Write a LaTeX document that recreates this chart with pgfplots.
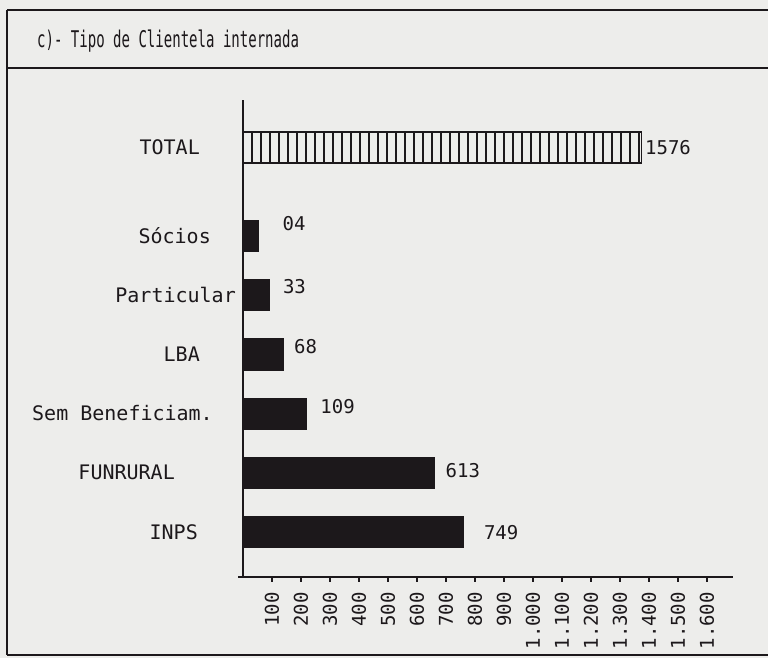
\documentclass[border=0pt]{standalone}
\usepackage{pgfplots}
\pgfplotsset{compat=1.18}
\usepackage{pgfplotstable}
\usepackage{fontspec}
\setmainfont{DejaVu Sans Mono}
\usetikzlibrary{patterns.meta}
\definecolor{paper}{RGB}{237,237,235}
\definecolor{ink}{RGB}{28,24,27}

\pgfplotstableread{
y x lab dx dy
0 760 749 20 0
1 659 613 11 2
2 220 109 13 7
3 140 68 10 8
4 91 33 13 9
5 52 04 24 13
}\dark
\pgfplotstableread{
y x lab dx dy
6.5 1374 1576 3 0
}\total

\newcommand{\gap}[1]{\rule{#1}{0pt}}

\begin{document}
\begin{tikzpicture}[x=1bp,y=1bp]
\fill[paper] (0,0) rectangle (768,658);
\useasboundingbox (0,0) rectangle (768,658);
\draw[ink, line width=2bp] (7,648) -- (768,648);
\draw[ink, line width=2bp] (7,590) -- (768,590);
\draw[ink, line width=2bp] (7,3) -- (768,3);
\draw[ink, line width=2bp] (7,648) -- (7,3);
\node[anchor=base west, inner sep=0pt, text=ink] at (37,610) {\scalebox{0.61}[1]{\fontsize{23bp}{28bp}\selectfont c)- Tipo de Clientela internada}};
\begin{axis}[
  at={(243bp,81bp)}, anchor=south west,
  scale only axis, width=490bp, height=477bp,
  xmin=0, xmax=1690, ymin=-0.76, ymax=7.30,
  axis lines*=left,
  axis line style={ink, line width=1.5bp},
  xtick={100,200,...,1600},
  xticklabels={100,200,300,400,500,600,700,800,900,1.000,1.100,1.200,1.300,1.400,1.500,1.600},
  xticklabel style={rotate=90, anchor=east, inner sep=0pt, text=ink, font=\fontsize{19bp}{21bp}\selectfont},
  xticklabel shift=10bp,
  xtick style={ink, line width=1.2bp},
  tick align=outside,
  major tick length=5bp,
  ytick={0,1,2,3,4,5,6.5},
  yticklabels={INPS\gap{40bp}, FUNRURAL\gap{63bp}, Sem Beneficiam.\gap{25bp}, LBA\gap{38bp}, Particular\gap{2bp}, Sócios\gap{27bp}, TOTAL\gap{38bp}},
  yticklabel style={anchor=base east, inner sep=0pt, text=ink, font=\fontsize{20bp}{24bp}\selectfont, yshift=-7bp},
  ytick style={draw=none},
  xbar, bar width=31bp, bar shift=0pt,
  clip=false,
  point meta=explicit symbolic,
  nodes near coords,
]
\addplot[draw=ink, line width=1.3bp, fill=ink,
  visualization depends on={\thisrow{dx} \as \dx},
  visualization depends on={\thisrow{dy} \as \dy},
  every node near coord/.append style={anchor=base west, inner sep=0pt, text=ink, font=\fontsize{19bp}{22bp}\selectfont, xshift=\dx*1bp, yshift=(\dy-7)*1bp}]
  table[x=x, y=y, meta=lab] {\dark};
\addplot[draw=ink, line width=1.5bp, pattern={Lines[angle=90, distance=9bp, line width=1.3bp]}, pattern color=ink,
  visualization depends on={\thisrow{dx} \as \dx},
  visualization depends on={\thisrow{dy} \as \dy},
  every node near coord/.append style={anchor=base west, inner sep=0pt, text=ink, font=\fontsize{19bp}{22bp}\selectfont, xshift=\dx*1bp, yshift=(\dy-7)*1bp}]
  table[x=x, y=y, meta=lab] {\total};
\draw[ink, line width=1.5bp] (axis cs:-17,-0.76) -- (axis cs:0,-0.76);
\end{axis}
\end{tikzpicture}
\end{document}
